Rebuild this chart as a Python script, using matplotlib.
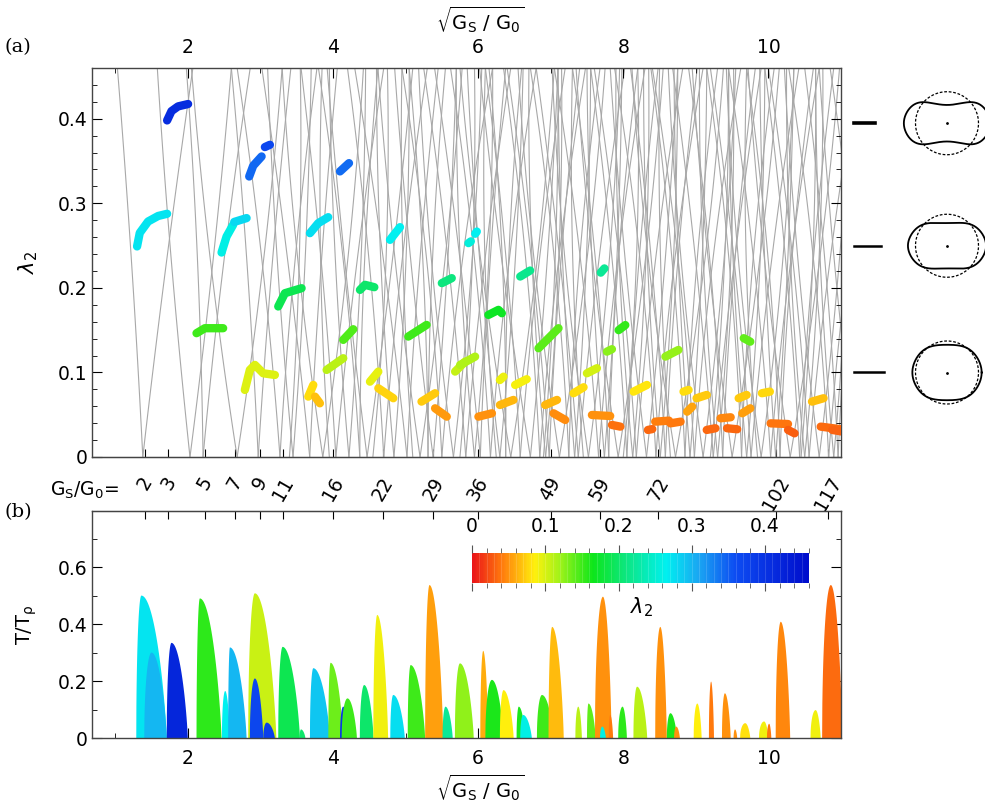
import numpy as np
import matplotlib
matplotlib.use("Agg")
import matplotlib.pyplot as plt
from matplotlib.colors import LinearSegmentedColormap, Normalize
from matplotlib.cm import ScalarMappable
from matplotlib.ticker import MultipleLocator
import matplotlib.transforms as mtransforms

# ---- colour scale for lambda_2 ----
cmap_pos = [0.0, 0.04, 0.085, 0.12, 0.165, 0.21, 0.265, 0.31, 0.36, 0.46]
cmap_cols = ['#ea1419', '#ff7a0d', '#fff00d', '#9ef21a', '#0de61a',
             '#0de680', '#00f0f0', '#1aa6f2', '#0d4cf2', '#000dcc']
lam_max = 0.46

# ---- tick set in G_S/G_0 ----
gs_ratio = [2, 3, 5, 7, 9, 11, 16, 22, 29, 36, 49, 59, 72, 102, 117]

# ---- grey lambda_2 branches: vertex on lambda=0, top ends of both arms, bow ----
gray_vertex = [1.38, 2.03, 2.21, 2.68, 2.97, 3.27, 3.45, 3.68, 3.86, 4.04,
               4.22, 4.37, 4.47, 4.70, 4.84, 5.02, 5.20, 5.31, 5.38, 5.50,
               5.66, 5.83, 5.95, 6.03, 6.17, 6.30, 6.38, 6.45, 6.58, 6.72,
               6.85, 6.93, 6.98, 7.12, 7.25, 7.33, 7.38, 7.52, 7.66, 7.74,
               7.80, 7.93, 8.05, 8.13, 8.18, 8.32, 8.45, 8.51, 8.58, 8.72,
               8.85, 8.92, 8.98, 9.10, 9.24, 9.30, 9.37, 9.50, 9.63, 9.70,
               9.76, 9.90, 10.03, 10.10, 10.16, 10.30, 10.43, 10.50, 10.56, 10.70,
               10.83, 10.90, 10.96, 11.20, 11.40]
gray_left_top = [1.03, 1.58, 1.98, 2.05, 2.60, 2.68, 3.10, 3.02, 3.30, 3.56,
                 3.95, 3.80, 3.92, 4.20, 4.60, 4.30, 4.62, 5.05, 4.85, 4.95,
                 5.18, 5.25, 5.70, 5.40, 5.62, 5.85, 6.15, 5.75, 6.10, 6.02,
                 6.35, 6.70, 6.40, 6.55, 6.72, 7.10, 6.80, 7.02, 7.05, 7.50,
                 7.30, 7.35, 7.55, 7.90, 7.60, 7.82, 7.88, 8.28, 8.10, 8.12,
                 8.38, 8.70, 8.40, 8.62, 8.68, 9.05, 8.90, 8.95, 9.15, 9.45,
                 9.20, 9.42, 9.45, 9.88, 9.70, 9.72, 9.95, 10.25, 10.00, 10.22,
                 10.28, 10.65, 10.50, 10.70, 10.85]
gray_right_top = [2.07, 2.60, 2.86, 3.30, 3.42, 3.78, 3.70, 4.06, 4.42, 4.70,
                  4.45, 4.62, 5.10, 5.30, 5.05, 5.45, 5.78, 5.55, 5.70, 6.20,
                  6.05, 6.45, 6.20, 6.38, 6.80, 6.62, 6.60, 7.05, 7.20, 7.10,
                  7.48, 7.15, 7.40, 7.75, 7.68, 7.55, 8.02, 7.95, 8.30, 7.98,
                  8.20, 8.55, 8.48, 8.35, 8.82, 8.75, 9.10, 8.75, 9.02, 9.38,
                  9.30, 9.15, 9.62, 9.55, 9.90, 9.52, 9.82, 10.15, 10.08, 9.95,
                  10.42, 10.35, 10.70, 10.35, 10.62, 10.98, 10.90, 10.75, 11.25, 11.15,
                  11.50, 11.15, 11.40, 11.80, 12.00]
gray_bow = [0.02, -0.03, 0.04, -0.05, 0.03, 0.05, -0.04, 0.03, -0.06, 0.04,
            -0.05, 0.06, -0.03, 0.05, -0.06, 0.04, -0.05, 0.06, -0.04, 0.07,
            -0.06, 0.05, -0.07, 0.04, 0.06, -0.05, 0.07, -0.06, 0.05, -0.04,
            0.06, -0.07, 0.05, -0.06, 0.07, -0.05, 0.04, -0.07, 0.06, -0.05,
            0.07, -0.06, 0.05, -0.07, 0.06, -0.04, 0.07, -0.06, 0.05, -0.07,
            0.06, -0.05, 0.07, -0.06, 0.04, -0.07, 0.06, -0.05, 0.07, -0.06,
            0.05, -0.07, 0.06, -0.04, 0.07, -0.06, 0.05, -0.07, 0.06, -0.05,
            0.07, -0.06, 0.05, -0.04, 0.06]
# near-vertical branches crossing the whole panel: bottom x, top x, bow
free_bottom = [3.40, 3.95, 4.55, 5.10, 5.75, 6.25, 6.90, 7.45, 8.00, 8.65,
               9.20, 9.85, 10.45]
free_top = [3.55, 3.85, 4.75, 4.95, 5.95, 6.10, 7.10, 7.30, 8.20, 8.50,
            9.45, 9.70, 10.65]
free_bow = [0.06, -0.07, 0.08, -0.06, 0.07, -0.08, 0.06, -0.07, 0.08, -0.06,
            0.07, -0.08, 0.06]

# ---- coloured solution tracks (x, lambda_2) ----
arc_x = [
    [1.715, 1.775, 1.866, 2.004],
    [1.301, 1.338, 1.453, 1.591, 1.715],
    [2.120, 2.235, 2.487],
    [2.465, 2.534, 2.625], [2.64, 2.810],
    [2.846, 2.901, 3.017], [3.062, 3.131],
    [2.786, 2.855, 2.924, 3.039, 3.200],
    [3.246, 3.338, 3.568],
    [4.097, 4.221],
    [3.683, 3.797, 3.935],
    [4.372, 4.441, 4.570],
    [4.786, 4.924],
    [5.500, 5.637],
    [4.142, 4.280],
    [5.038, 5.290],
    [3.913, 4.142],
    [4.510, 4.625],
    [5.683, 5.821],
    [3.660, 3.729], [3.752, 3.820],
    [4.625, 4.832],
    [5.220, 5.407],
    [5.407, 5.568],
    [5.867, 5.900], [5.960, 5.982],
    [6.580, 6.717],
    [6.142, 6.280, 6.327],
    [6.832, 7.108],
    [7.690, 7.740],
    [7.936, 8.028],
    [5.752, 5.959],
    [7.775, 7.844],
    [7.499, 7.637],
    [6.300, 6.350],
    [6.510, 6.670],
    [7.315, 7.453],
    [8.142, 8.326],
    [6.300, 6.487],
    [6.924, 7.087],
    [6.004, 6.190],
    [7.040, 7.200],
    [7.568, 7.820],
    [7.844, 7.960],
    [8.580, 8.760],
    [9.660, 9.750],
    [8.830, 8.900],
    [9.010, 9.150],
    [9.590, 9.700],
    [9.910, 10.020],
    [10.600, 10.760],
    [8.880, 8.950],
    [9.640, 9.750],
    [8.440, 8.630], [8.650, 8.790],
    [8.340, 8.400],
    [9.150, 9.270],
    [9.340, 9.480],
    [9.430, 9.570],
    [10.030, 10.270],
    [10.270, 10.360],
    [10.720, 11.000],
    [10.880, 11.020],
]
arc_lam = [
    [0.398, 0.409, 0.4146, 0.4174],
    [0.249, 0.265, 0.2785, 0.285, 0.2876],
    [0.1464, 0.1523, 0.1523],
    [0.2418, 0.2607, 0.2746], [0.278, 0.2825],
    [0.3317, 0.3444, 0.3554], [0.3665, 0.3692],
    [0.0793, 0.103, 0.1089, 0.099, 0.097],
    [0.178, 0.1937, 0.1996],
    [0.3377, 0.3475],
    [0.2647, 0.2765, 0.2836],
    [0.1976, 0.2036, 0.2008],
    [0.2568, 0.2718],
    [0.2056, 0.2115],
    [0.1385, 0.1511],
    [0.1424, 0.1562],
    [0.103, 0.1168],
    [0.0891, 0.101],
    [0.101, 0.1128],
    [0.0714, 0.0852], [0.0714, 0.0635],
    [0.0813, 0.0695],
    [0.0655, 0.0754],
    [0.0576, 0.0477],
    [0.2529, 0.2550], [0.2640, 0.2666],
    [0.2134, 0.2205],
    [0.168, 0.174, 0.170],
    [0.1286, 0.1523],
    [0.2180, 0.2230],
    [0.150, 0.156],
    [0.1089, 0.1187],
    [0.1246, 0.1275],
    [0.099, 0.105],
    [0.091, 0.095],
    [0.0852, 0.092],
    [0.0754, 0.0825],
    [0.0773, 0.0852],
    [0.0615, 0.0675],
    [0.0615, 0.0675],
    [0.0477, 0.0517],
    [0.0517, 0.0438],
    [0.0497, 0.0485],
    [0.0379, 0.0359],
    [0.1187, 0.1266],
    [0.1405, 0.1364],
    [0.0773, 0.0793],
    [0.0695, 0.0734],
    [0.0695, 0.0734],
    [0.0754, 0.0773],
    [0.0655, 0.0695],
    [0.0536, 0.0595],
    [0.0517, 0.0576],
    [0.0418, 0.0430], [0.0398, 0.0418],
    [0.0320, 0.0330],
    [0.0320, 0.0340],
    [0.0458, 0.0470],
    [0.0340, 0.0328],
    [0.0398, 0.0390],
    [0.0320, 0.0280],
    [0.0359, 0.0328],
    [0.0320, 0.0300],
]

# ---- transmission peaks: left foot, apex x, right foot, height, lambda_2 ----
peak_left = [1.29, 1.40, 1.71, 2.12, 2.47, 2.556, 2.832, 2.855, 3.04, 3.246,
             3.54, 3.683, 3.936, 4.097, 4.12, 4.37, 4.556, 4.79, 5.03, 5.27,
             5.51, 5.68, 6.03, 6.10, 6.30, 6.53, 6.58, 6.81, 6.97, 7.34,
             7.50, 7.61, 7.68, 7.80, 7.93, 8.14, 8.44, 8.60, 8.70, 8.97,
             9.18, 9.36, 9.52, 9.61, 9.87, 9.98, 10.10, 10.58, 10.74]
peak_top = [1.36, 1.50, 1.775, 2.166, 2.515, 2.58, 2.924, 2.924, 3.086, 3.306,
            3.56, 3.729, 3.967, 4.14, 4.20, 4.43, 4.61, 4.83, 5.07, 5.33,
            5.55, 5.75, 6.07, 6.19, 6.35, 6.56, 6.62, 6.88, 7.02, 7.38,
            7.52, 7.72, 7.71, 7.82, 7.99, 8.19, 8.51, 8.65, 8.73, 9.02,
            9.21, 9.40, 9.54, 9.68, 9.94, 10.01, 10.17, 10.65, 10.86]
peak_right = [1.71, 1.71, 2.00, 2.465, 2.58, 2.81, 3.22, 3.04, 3.20, 3.545,
              3.62, 3.959, 4.14, 4.235, 4.33, 4.56, 4.76, 4.99, 5.27, 5.52,
              5.65, 5.94, 6.14, 6.35, 6.49, 6.65, 6.74, 7.04, 7.18, 7.43,
              7.62, 7.84, 7.76, 7.86, 8.05, 8.33, 8.60, 8.74, 8.78, 9.08,
              9.25, 9.48, 9.57, 9.75, 10.00, 10.04, 10.30, 10.72, 11.02]
peak_height = [0.50, 0.30, 0.334, 0.49, 0.165, 0.318, 0.508, 0.209, 0.054, 0.32,
               0.03, 0.245, 0.264, 0.11, 0.139, 0.186, 0.432, 0.151, 0.256, 0.537,
               0.11, 0.262, 0.306, 0.204, 0.168, 0.11, 0.081, 0.151, 0.39, 0.11,
               0.121, 0.496, 0.04, 0.081, 0.11, 0.18, 0.39, 0.087, 0.04, 0.121,
               0.198, 0.157, 0.03, 0.052, 0.058, 0.05, 0.408, 0.098, 0.537]
peak_lam = [0.272, 0.30, 0.42, 0.155, 0.265, 0.30, 0.105, 0.37, 0.38, 0.19,
            0.20, 0.29, 0.135, 0.39, 0.15, 0.20, 0.09, 0.275, 0.15, 0.055,
            0.22, 0.125, 0.06, 0.16, 0.085, 0.16, 0.26, 0.15, 0.065, 0.11,
            0.14, 0.05, 0.26, 0.04, 0.155, 0.11, 0.05, 0.16, 0.05, 0.085,
            0.04, 0.05, 0.05, 0.08, 0.09, 0.04, 0.045, 0.09, 0.035]

# ---- shape sketches at the right ----
shape_lam = [0.395, 0.25, 0.10]
shape_a = [1.37, 1.24, 1.10]
shape_b = [0.58, 0.72, 0.88]
shape_c = [0.90, 0.50, 0.30]
shape_d = [0.55, 0.38, 0.26]
shape_bar_end = [1.0454, 1.0534, 1.0574]
shape_bar_lw = [2.6, 1.8, 1.8]

cmap = LinearSegmentedColormap.from_list(
    "lam", [(p / lam_max, c) for p, c in zip(cmap_pos, cmap_cols)])
norm = Normalize(0, lam_max)

W, H = 985, 808
fig = plt.figure(figsize=(W / 100, H / 100), dpi=100)
plt.rcParams['font.family'] = ['DejaVu Sans']
fs = 13.5
gray = '#a8a8a8'
xlim = (0.68, 11.0)
sq_ticks = np.sqrt(gs_ratio)


def fx(px):
    return px / W


def fy(py):
    return 1 - py / H


def fmt(v, p):
    return '0' if abs(v) < 1e-9 else f'{v:.1f}'


def branch(x0, x1, bow):
    # smooth curve through bottom, bowed middle and top point
    lam = np.linspace(0, lam_max, 30)
    coef = np.polyfit([0, lam_max / 2, lam_max], [x0, (x0 + x1) / 2 + bow, x1], 2)
    return np.polyval(coef, lam), lam


ax1 = fig.add_axes([fx(92), fy(457), fx(841 - 92), (457 - 68) / H])
ax2 = fig.add_axes([fx(92), fy(738), fx(841 - 92), (738 - 511) / H])

# ---------------- panel (a) ----------------
for xv, xl, xr, bw in zip(gray_vertex, gray_left_top, gray_right_top, gray_bow):
    for xt, b in ((xl, bw), (xr, -bw)):
        bx, by = branch(xv, xt, b)
        ax1.plot(bx, by, color=gray, lw=0.8, zorder=1)
for x0, x1, bw in zip(free_bottom, free_top, free_bow):
    bx, by = branch(x0, x1, bw)
    ax1.plot(bx, by, color=gray, lw=0.8, zorder=1)

for xs, ls in zip(arc_x, arc_lam):
    ax1.plot(xs, ls, color=cmap(norm(np.mean(ls))), lw=6,
             solid_capstyle='round', solid_joinstyle='round', zorder=3)

ax1.set_xlim(*xlim)
ax1.set_ylim(0, lam_max)
ax1.xaxis.set_major_locator(MultipleLocator(2))
ax1.xaxis.set_minor_locator(MultipleLocator(1))
ax1.yaxis.set_major_locator(MultipleLocator(0.1))
ax1.yaxis.set_minor_locator(MultipleLocator(0.02))
ax1.yaxis.set_major_formatter(fmt)
ax1.tick_params(which='both', direction='in', top=True, bottom=False,
                labeltop=True, labelbottom=False, right=True, labelsize=fs)
ax1.tick_params(which='major', length=7)
ax1.tick_params(which='minor', length=3.5)
ax1.tick_params(axis='x', pad=8)
sec1 = ax1.secondary_xaxis('bottom')
sec1.set_xticks(sq_ticks)
sec1.set_xticklabels([str(n) for n in gs_ratio], rotation=60,
                     ha='center', va='top', fontsize=fs)
sec1.tick_params(direction='in', length=6, pad=12)

trans = mtransforms.blended_transform_factory(ax1.transAxes, ax1.transData)
for lam, xe, lw in zip(shape_lam, shape_bar_end, shape_bar_lw):
    ax1.plot([1.0174, xe], [lam, lam], color='black', lw=lw,
             transform=trans, clip_on=False)

# shape sketches
t = np.linspace(0, 2 * np.pi, 400)
r_px = 31.5
for lam, a, b, c, d in zip(shape_lam, shape_a, shape_b, shape_c, shape_d):
    cy = 457 - lam * 845
    sw, sh = 110, 84
    sax = fig.add_axes([fx(947 - sw / 2), fy(cy + sh / 2), sw / W, sh / H])
    sax.set_xlim(-sw / 2 / r_px, sw / 2 / r_px)
    sax.set_ylim(-sh / 2 / r_px, sh / 2 / r_px)
    sax.axis('off')
    sax.plot(np.cos(t), np.sin(t), color='black', lw=0.9,
             ls=(0, (2.2, 1.4)), clip_on=False)
    ct = np.cos(t)
    sax.plot(a * ct, np.sin(t) * (b + c * ct ** 2 - d * ct ** 4),
             color='black', lw=1.3, clip_on=False)
    sax.plot([0], [0], 'k.', ms=2)

# ---------------- panel (b) ----------------
for xl, xp, xr, h, lam in zip(peak_left, peak_top, peak_right, peak_height, peak_lam):
    u = np.linspace(0, 1, 40)
    xs = np.concatenate([xl + (xp - xl) * u, xp + (xr - xp) * u])
    ys = np.concatenate([h * np.sqrt(1 - (1 - u) ** 2), h * (1 - u ** 2) ** 0.8])
    ax2.fill(np.r_[xl, xs, xr], np.r_[0, ys, 0], color=cmap(norm(lam)), lw=0, zorder=2)

ax2.set_xlim(*xlim)
ax2.set_ylim(0, 0.797)
ax2.xaxis.set_major_locator(MultipleLocator(2))
ax2.xaxis.set_minor_locator(MultipleLocator(1))
ax2.yaxis.set_major_locator(MultipleLocator(0.2))
ax2.yaxis.set_minor_locator(MultipleLocator(0.1))
ax2.yaxis.set_major_formatter(fmt)
ax2.tick_params(which='both', direction='in', top=False, right=True, labelsize=fs)
ax2.tick_params(which='major', length=7)
ax2.tick_params(which='minor', length=3.5)
ax2.tick_params(axis='x', pad=8)
sec2 = ax2.secondary_xaxis('top')
sec2.set_xticks(sq_ticks)
sec2.set_xticklabels([])
sec2.tick_params(direction='in', length=6)

for ax in (ax1, ax2):
    for s in ax.spines.values():
        s.set_color('#444444')
        s.set_linewidth(1.0)
for s in (sec1, sec2):
    s.spines[:].set_color('#444444')

# colour bar
cax = fig.add_axes([fx(472), fy(583), fx(809 - 472), 30 / H])
cb = fig.colorbar(ScalarMappable(norm=norm, cmap=cmap), cax=cax,
                  orientation='horizontal')
cb.outline.set_visible(False)
cb.set_ticks([0, 0.1, 0.2, 0.3, 0.4])
cax.xaxis.set_major_formatter(fmt)
cax.xaxis.set_minor_locator(MultipleLocator(0.02))
cax.tick_params(which='both', top=True, bottom=True, labeltop=True,
                labelbottom=False, direction='out', labelsize=fs, color='#555555')
cax.tick_params(which='major', length=6, pad=6)
cax.tick_params(which='minor', length=3.5)
for v in np.arange(0.01, lam_max, 0.01):
    cax.axvline(v, color='white', lw=0.5, alpha=0.2)

# ---------------- labels ----------------
xlab = r'$\sqrt{\mathrm{G_S}\ /\ \mathrm{G_0}}$'
fig.text(fx(480), fy(20), xlab, ha='center', va='center', fontsize=14)
fig.text(fx(480), fy(788), xlab, ha='center', va='center', fontsize=14)
fig.text(fx(28), fy(262), r'$\lambda_2$', rotation=90, ha='center',
         va='center', fontsize=15)
fig.text(fx(27), fy(625), r'$\mathrm{T/T_\rho}$', rotation=90, ha='center',
         va='center', fontsize=14)
fig.text(fx(642), fy(607), r'$\lambda_2$', ha='center', va='center', fontsize=15)
fig.text(fx(50), fy(490), r'$\mathrm{G_S/G_0}$=', ha='left', va='center',
         fontsize=fs)
fig.text(fx(5), fy(47), '(a)', family='DejaVu Serif', fontsize=14,
         ha='left', va='center')
fig.text(fx(5), fy(512), '(b)', family='DejaVu Serif', fontsize=14,
         ha='left', va='center')

fig.savefig('out.png', dpi=100)
